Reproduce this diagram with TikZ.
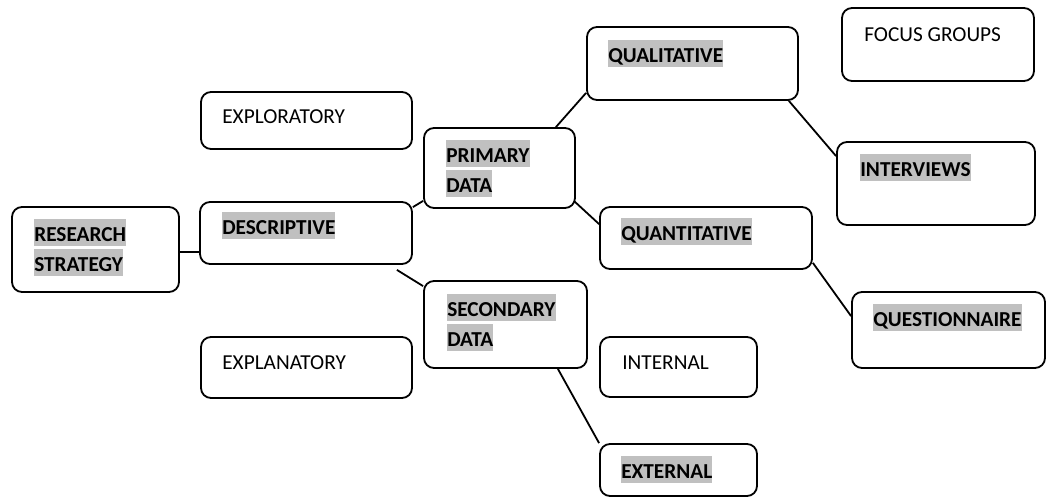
\documentclass[tikz,border=0pt]{standalone}
\usepackage{fontspec}
\setmainfont{Carlito}
\definecolor{hlgray}{HTML}{C0C0C0}
\newcommand{\boxstrut}{\rule[-5pt]{0pt}{27pt}}
\newcommand{\hlword}[1]{{\setlength{\fboxsep}{0pt}\colorbox{hlgray}{\boxstrut\textbf{#1}}}}
\tikzset{
  box/.style={draw, line width=1.8pt, rounded corners=10pt, inner sep=0pt},
  boxtext/.style={anchor=north west, inner sep=0pt, align=left,
    font=\fontsize{21.3}{30}\selectfont},
  link/.style={line width=1.8pt}
}
\begin{document}
\begin{tikzpicture}[x=1pt, y=-1pt]
        \useasboundingbox (0,0) rectangle (1047,498);

        % boxes
        \node[box, minimum width=167pt, minimum height=85pt] (rs) at (95.5,249.5) {};
        \node[box, minimum width=211pt, minimum height=57pt] (explo) at (306.5,120.5) {};
        \node[box, minimum width=212pt, minimum height=62pt] (desc) at (306,233) {};
        \node[box, minimum width=211pt, minimum height=61pt] (explan) at (306.5,367.5) {};
        \node[box, minimum width=151pt, minimum height=80pt] (prim) at (499.5,168) {};
        \node[box, minimum width=163pt, minimum height=87pt] (sec) at (505.5,324.5) {};
        \node[box, minimum width=211pt, minimum height=73pt] (qual) at (692.5,63.5) {};
        \node[box, minimum width=212pt, minimum height=62pt] (quant) at (706,238) {};
        \node[box, minimum width=157pt, minimum height=60pt] (intl) at (678.5,367) {};
        \node[box, minimum width=157pt, minimum height=52pt] (extl) at (678.5,470) {};
        \node[box, minimum width=192pt, minimum height=73pt] (focus) at (938,44.5) {};
        \node[box, minimum width=198pt, minimum height=83pt] (intv) at (936,183.5) {};
        \node[box, minimum width=193pt, minimum height=76pt] (quest) at (948.5,330) {};

        % texts
        \node[boxtext] (rstext) at ([shift={(23pt,-13pt)}]rs.north west) {\hlword{RESEARCH}\\\hlword{STRATEGY}};
        \node[boxtext] (explotext) at ([shift={(22pt,-10pt)}]explo.north west) {\boxstrut EXPLORATORY};
        \node[boxtext] (desctext) at ([shift={(23pt,-11pt)}]desc.north west) {\hlword{DESCRIPTIVE}};
        \node[boxtext] (explantext) at ([shift={(22pt,-11pt)}]explan.north west) {\boxstrut EXPLANATORY};
        \node[boxtext] (primtext) at ([shift={(23pt,-13pt)}]prim.north west) {\hlword{PRIMARY}\\\hlword{DATA}};
        \node[boxtext] (sectext) at ([shift={(24pt,-14pt)}]sec.north west) {\hlword{SECONDARY}\\\hlword{DATA}};
        \node[boxtext] (qualtext) at ([shift={(22pt,-14pt)}]qual.north west) {\hlword{QUALITATIVE}};
        \node[boxtext] (quanttext) at ([shift={(22pt,-12pt)}]quant.north west) {\hlword{QUANTITATIVE}};
        \node[boxtext] (intltext) at ([shift={(23pt,-11pt)}]intl.north west) {\boxstrut INTERNAL};
        \node[boxtext] (extltext) at ([shift={(22pt,-13pt)}]extl.north west) {\hlword{EXTERNAL}};
        \node[boxtext] (focustext) at ([shift={(23pt,-12pt)}]focus.north west) {\boxstrut FOCUS GROUPS};
        \node[boxtext] (intvtext) at ([shift={(24pt,-13pt)}]intv.north west) {\hlword{INTERVIEWS}};
        \node[boxtext] (questtext) at ([shift={(22pt,-13pt)}]quest.north west) {\hlword{QUESTIONNAIRE}};

        % connectors
        \coordinate (descfoot) at ([shift={(-16pt,-5pt)}]desc.south east);
        \draw[link] ([yshift=-2.5pt]rs.east) -- ([yshift=-2.5pt]rs.east -| desc.west);
        \draw[link] ([yshift=-6pt]desc.north east) -- ([yshift=8pt]prim.south west);
        \draw[link] (descfoot) -- ([yshift=-6pt]sec.north west);
        \draw[link] ([xshift=-20pt]prim.north east) -- ([yshift=8pt]qual.south west);
        \draw[link] ([xshift=-10pt]qual.south east) -- ([yshift=-15pt]intv.north west);
        \draw[link] ([shift={(-2pt,8pt)}]prim.south east) -- ([yshift=-18pt]quant.north west);
        \draw[link] ([yshift=7pt]quant.south east) -- ([yshift=-25pt]quest.north west);
        \draw[link] ([xshift=-30pt]sec.south east) -- (extl.north west);
    \end{tikzpicture}
\end{document}
